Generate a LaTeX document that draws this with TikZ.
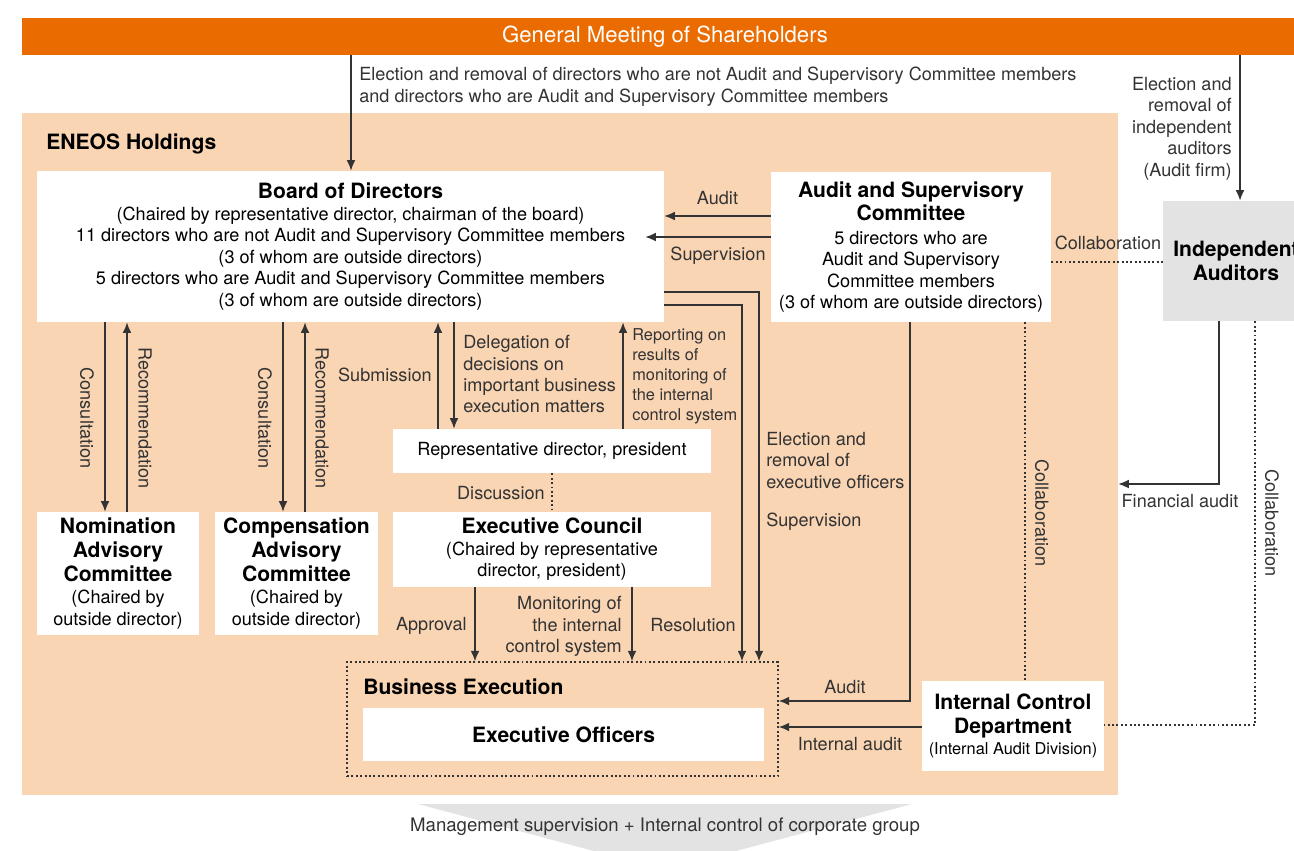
\documentclass[tikz,border=0pt]{standalone}
\usepackage{fontspec}
\setmainfont{TeX Gyre Heros}
\usetikzlibrary{arrows.meta}
\definecolor{eneos}{HTML}{EA6C00}
\definecolor{peach}{HTML}{F9D5B4}
\definecolor{iagrey}{HTML}{E3E3E3}
\definecolor{ink}{HTML}{333333}
\newcommand{\bft}{\fontsize{12}{13.7}\selectfont\bfseries}
\newcommand{\smt}{\fontsize{9.3}{11.4}\selectfont}
\tikzset{
  box/.style={fill=white, align=center, inner sep=0pt, text=black},
  lbl/.style={text=ink, inner sep=0pt, align=left},
  conn/.style={draw=ink, line width=0.8pt},
  dots/.style={draw=ink, line width=0.8pt, dash pattern=on 1.1pt off 1.4pt},
}
\begin{document}
\begin{tikzpicture}[x=0.02cm, y=-0.02cm, >={Latex[length=6pt,width=5pt]},
    font=\fontsize{10.3}{12.2}\selectfont]
    \useasboundingbox (0,0) rectangle (1294,850);
    \clip (0,0) rectangle (1294,850);

    % company area and bottom band
    \node[fill=peach, minimum width=21.92cm, minimum height=13.64cm, inner sep=0pt] (holdings) at (570,454) {};
    \fill[iagrey] (418,804) -- (912,804) -- (665,870) -- cycle;
    \node[lbl, font=\fontsize{10.6}{12.4}\selectfont] (mgmt) at (665,827) {Management supervision + Internal control of corporate group};
    \node[fill=eneos, minimum width=25.72cm, minimum height=0.74cm, inner sep=0pt, text=white,
        font=\fontsize{12.6}{14}\selectfont] (gms) at (665,36.5) {General Meeting of Shareholders};
    \node[anchor=west, font=\bft, inner sep=0pt] (hname) at (46,144) {ENEOS Holdings};

    % boxes
    \node[box, minimum width=12.54cm, minimum height=3.02cm] (board) at (350.5,246.5)
        {{\bft Board of Directors}\\(Chaired by representative director, chairman of the board)\\
        11 directors who are not Audit and Supervisory Committee members\\(3 of whom are outside directors)\\
        5 directors who are Audit and Supervisory Committee members\\(3 of whom are outside directors)};
    \node[box, minimum width=5.6cm, minimum height=3cm] (asc) at (911,247)
        {{\bft Audit and Supervisory}\\[1.2pt]{\bft Committee}\\[1.2pt]5 directors who are\\Audit and Supervisory\\
        Committee members\\(3 of whom are outside directors)};
    \node[fill=iagrey, minimum width=2.92cm, minimum height=2.4cm, inner sep=0pt, align=center,
        font=\bft] (ia) at (1236,261) {Independent\\Auditors};
    \node[box, minimum width=3.24cm, minimum height=2.46cm] (nom) at (118,573.5)
        {{\bft Nomination}\\[1.5pt]{\bft Advisory}\\[1.5pt]{\bft Committee}\\[0.5pt](Chaired by\\outside director)};
    \node[box, minimum width=3.26cm, minimum height=2.46cm] (comp) at (296.5,573.5)
        {{\bft Compensation}\\[1.5pt]{\bft Advisory}\\[1.5pt]{\bft Committee}\\[0.5pt](Chaired by\\outside director)};
    \node[box, minimum width=6.36cm, minimum height=0.88cm] (rep) at (552,451)
        {Representative director, president};
    \node[box, minimum width=6.36cm, minimum height=1.5cm] (exc) at (552,549.5)
        {{\bft Executive Council}\\(Chaired by representative\\director, president)};
    \node[dots, minimum width=8.62cm, minimum height=2.28cm, inner sep=0pt] (bex) at (562.5,719) {};
    \node[anchor=west, font=\bft, inner sep=0pt] (bexname) at (363,687) {Business Execution};
    \node[box, minimum width=8.02cm, minimum height=1.06cm, font=\bft] (eo) at (563.5,734.5)
        {Executive Officers};
    \node[box, minimum width=3.64cm, minimum height=1.8cm] (icd) at (1013,726)
        {{\bft Internal Control}\\[1.5pt]{\bft Department}\\{\smt (Internal Audit Division)}};

    % shareholders
    \draw[conn,->] (351,0 |- gms.south) -- (351,0 |- board.north);
    \node[lbl, anchor=north west] at (359,67) {Election and removal of directors who are not Audit and Supervisory Committee members\\
        and directors who are Audit and Supervisory Committee members};
    \draw[conn,->] (1240,0 |- gms.south) -- (1240,0 |- ia.north);
    \node[lbl, anchor=north east, align=right] at (1232,77) {Election and\\removal of\\independent\\auditors\\(Audit firm)};

    % audit and supervisory committee
    \draw[conn,->] (asc.west |- 0,216) -- (board.east |- 0,216) node[midway, above=6pt, lbl] {Audit};
    \draw[conn,->] (asc.west |- 0,237) -- ([xshift=-0.38cm]board.east |- 0,237)
        node[pos=0.42, below=5pt, lbl] {Supervision};
    \draw[conn,->] (910,0 |- asc.south) |- (bex.east |- 0,701);
    \node[lbl] at (845,687) {Audit};
    \draw[dots] (1025,0 |- asc.south) -- (1025,0 |- icd.north);
    \node[lbl, rotate=-90] at (1042,513) {Collaboration};
    \draw[dots] (asc.east |- 0,262) -- (ia.west |- 0,262);
    \node[lbl] at (1108,243) {Collaboration};

    % independent auditors
    \draw[conn,->] (1219,0 |- ia.south) |- (holdings.east |- 0,484);
    \node[lbl] at (1180,501) {Financial audit};
    \draw[dots] (1255,0 |- ia.south) |- (icd.east |- 0,725);
    \node[lbl, rotate=-90] at (1272,523) {Collaboration};

    % board to business execution
    \draw[conn,->] (board.east |- 0,292) -| (759,0 |- bex.north);
    \node[lbl, anchor=north west] at (766,432) {Election and\\removal of\\executive officers};
    \node[lbl, anchor=west] at (766,522) {Supervision};
    \draw[conn,->] (board.east |- 0,305) -| (742,0 |- bex.north);
    \node[lbl, anchor=east] at (736,625) {Resolution};
    \draw[conn,->] (icd.west |- 0,727) -- (bex.east |- 0,727);
    \node[lbl] at (850,744) {Internal audit};

    % advisory committees
    \draw[conn,->] (105,0 |- board.south) -- (105,0 |- nom.north);
    \node[lbl, rotate=-90] at (87,418) {Consultation};
    \draw[conn,->] (127,0 |- nom.north) -- (127,0 |- board.south);
    \node[lbl, rotate=-90] at (145,418) {Recommendation};
    \draw[conn,->] (283,0 |- board.south) -- (283,0 |- comp.north);
    \node[lbl, rotate=-90] at (265,418) {Consultation};
    \draw[conn,->] (305,0 |- comp.north) -- (305,0 |- board.south);
    \node[lbl, rotate=-90] at (322,418) {Recommendation};

    % representative director and council
    \draw[conn,->] (438,0 |- rep.north) -- (438,0 |- board.south);
    \node[lbl, anchor=east] at (432,375) {Submission};
    \draw[conn,->] (454,0 |- board.south) -- (454,0 |- rep.north);
    \node[lbl, anchor=north west] at (463,335) {Delegation of\\decisions on\\important business\\execution matters};
    \draw[conn,->] (623,0 |- rep.north) -- (623,0 |- board.south);
    \node[lbl, anchor=north west, font=\smt] at (632,328) {Reporting on\\results of\\monitoring of\\the internal\\control system};
    \draw[dots] (552,0 |- rep.south) -- (552,0 |- exc.north);
    \node[lbl, anchor=east] at (545,493) {Discussion};
    \draw[conn,->] (475,0 |- exc.south) -- (475,0 |- bex.north);
    \node[lbl, anchor=east] at (467,626) {Approval};
    \draw[conn,->] (632,0 |- exc.south) -- (632,0 |- bex.north);
    \node[lbl, anchor=north east, align=right] at (622,596) {Monitoring of\\the internal\\control system};
\end{tikzpicture}
\end{document}
